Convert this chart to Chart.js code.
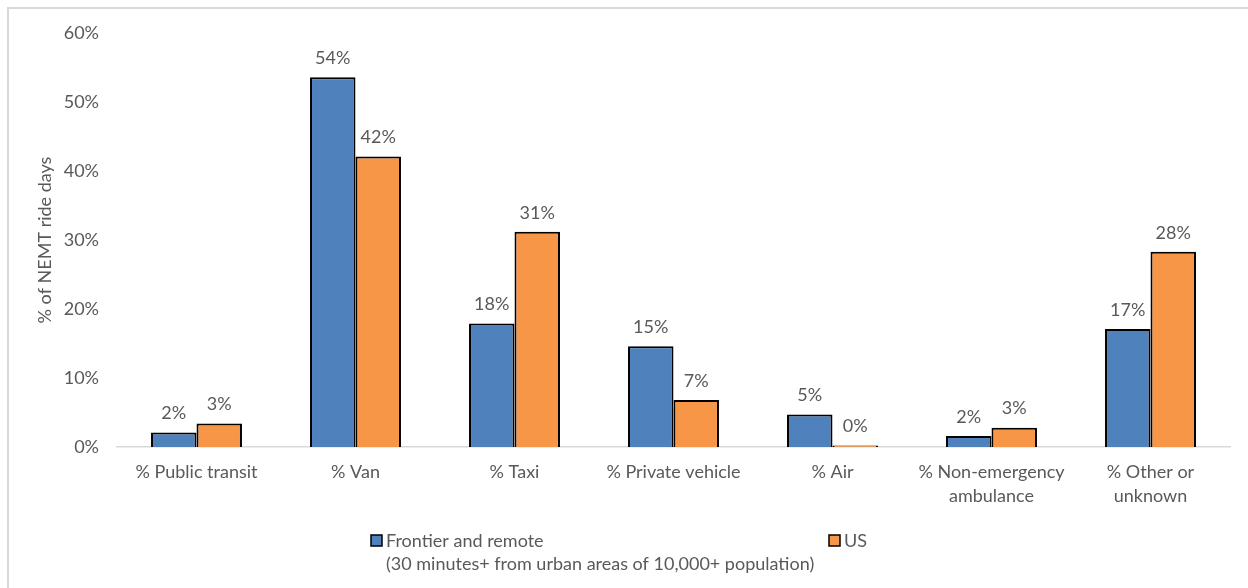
<!DOCTYPE html>
<html>
<head>
<meta charset="utf-8">
<script src="https://cdn.jsdelivr.net/npm/chart.js@4.4.1/dist/chart.umd.min.js"></script>
<style>
  html, body { margin: 0; padding: 0; background: #ffffff; }
  #wrap { width: 1248px; height: 588px; position: relative; }
</style>
</head>
<body>
<div id="wrap"><canvas id="c" width="1248" height="588"></canvas></div>
<script>
// Share of NEMT ride days by transport mode
const categories = [
  '% Public transit',
  '% Van',
  '% Taxi',
  '% Private vehicle',
  '% Air',
  ['% Non-emergency', 'ambulance'],
  ['% Other or', 'unknown']
];
const frontierRemote = [2.1, 53.6, 17.9, 14.6, 4.7, 1.6, 17.1];
const unitedStates = [3.4, 42.1, 31.2, 6.8, 0.2, 2.8, 28.3];
const seriesNames = [
  ['Frontier and remote', '(30 minutes+ from urban areas of 10,000+ population)'],
  ['US']
];
const yTicks = [0, 10, 20, 30, 40, 50, 60];
const yTitle = '% of NEMT ride days';

const FONT = 'Lato, "Open Sans", sans-serif';
const FS = 18;
const TEXT = '#595959';
const BLUE = '#4F81BD';
const ORANGE = '#F79646';

// outer frame of the chart object
const framePlugin = {
  id: 'frame',
  beforeDraw(chart) {
    const ctx = chart.ctx;
    ctx.save();
    ctx.fillStyle = '#ffffff';
    ctx.fillRect(0, 0, chart.width, chart.height);
    ctx.strokeStyle = '#d9d9d9';
    ctx.lineWidth = 2;
    ctx.strokeRect(8, 8, chart.width + 20, chart.height + 20);
    ctx.restore();
  }
};

// value labels above each bar
const valueLabelPlugin = {
  id: 'valueLabels',
  afterDatasetsDraw(chart) {
    const ctx = chart.ctx;
    ctx.save();
    ctx.font = FS + 'px ' + FONT;
    ctx.fillStyle = TEXT;
    ctx.textAlign = 'center';
    ctx.textBaseline = 'middle';
    chart.data.datasets.forEach((ds, i) => {
      const meta = chart.getDatasetMeta(i);
      meta.data.forEach((bar, j) => {
        const v = ds.data[j];
        ctx.fillText(Math.round(v) + '%', bar.x, bar.y - 19);
      });
    });
    ctx.restore();
  }
};

// legend drawn under the axis labels
const legendPlugin = {
  id: 'bottomLegend',
  afterDraw(chart) {
    const ctx = chart.ctx;
    const colors = [BLUE, ORANGE];
    const boxX = [371, 829];
    ctx.save();
    ctx.font = FS + 'px ' + FONT;
    ctx.textBaseline = 'middle';
    ctx.textAlign = 'left';
    seriesNames.forEach((lines, i) => {
      ctx.fillStyle = colors[i];
      ctx.fillRect(boxX[i], 535, 11, 11);
      ctx.strokeStyle = '#000000';
      ctx.lineWidth = 1.5;
      ctx.strokeRect(boxX[i], 535, 11, 11);
      ctx.fillStyle = TEXT;
      lines.forEach((t, k) => {
        ctx.fillText(t, boxX[i] + 15, 541 + k * 23);
      });
    });
    ctx.restore();
  }
};

new Chart(document.getElementById('c'), {
  type: 'bar',
  data: {
    labels: categories,
    datasets: [
      {
        label: 'Frontier and remote',
        data: frontierRemote,
        backgroundColor: BLUE,
        borderColor: '#000000',
        borderWidth: 2,
        borderSkipped: 'bottom'
      },
      {
        label: 'US',
        data: unitedStates,
        backgroundColor: ORANGE,
        borderColor: '#000000',
        borderWidth: 2,
        borderSkipped: 'bottom'
      }
    ]
  },
  options: {
    responsive: false,
    animation: false,
    layout: { padding: { left: 30, right: 18, top: 33, bottom: 0 } },
    datasets: {
      bar: { categoryPercentage: 0.572, barPercentage: 1.0 }
    },
    plugins: {
      legend: { display: false },
      tooltip: { enabled: false }
    },
    scales: {
      x: {
        grid: { display: false, drawTicks: false },
        border: { display: true, color: '#d9d9d9', width: 1.5 },
        ticks: {
          color: TEXT,
          font: { family: FONT, size: FS, lineHeight: 1.33 },
          padding: 13,
          maxRotation: 0,
          autoSkip: false
        },
        afterFit(scale) { scale.height = 141; }
      },
      y: {
        min: 0,
        max: 60,
        afterBuildTicks(scale) { scale.ticks = yTicks.map(v => ({ value: v })); },
        grid: { display: false, drawTicks: false },
        border: { display: false },
        ticks: {
          color: TEXT,
          font: { family: FONT, size: FS },
          padding: 18,
          callback: v => v + '%'
        },
        title: {
          display: true,
          text: yTitle,
          color: TEXT,
          font: { family: FONT, size: FS },
          padding: { top: 4, bottom: 0 }
        },
        afterFit(scale) { scale.width = 87; }
      }
    }
  },
  plugins: [framePlugin, valueLabelPlugin, legendPlugin]
});
</script>
</body>
</html>
